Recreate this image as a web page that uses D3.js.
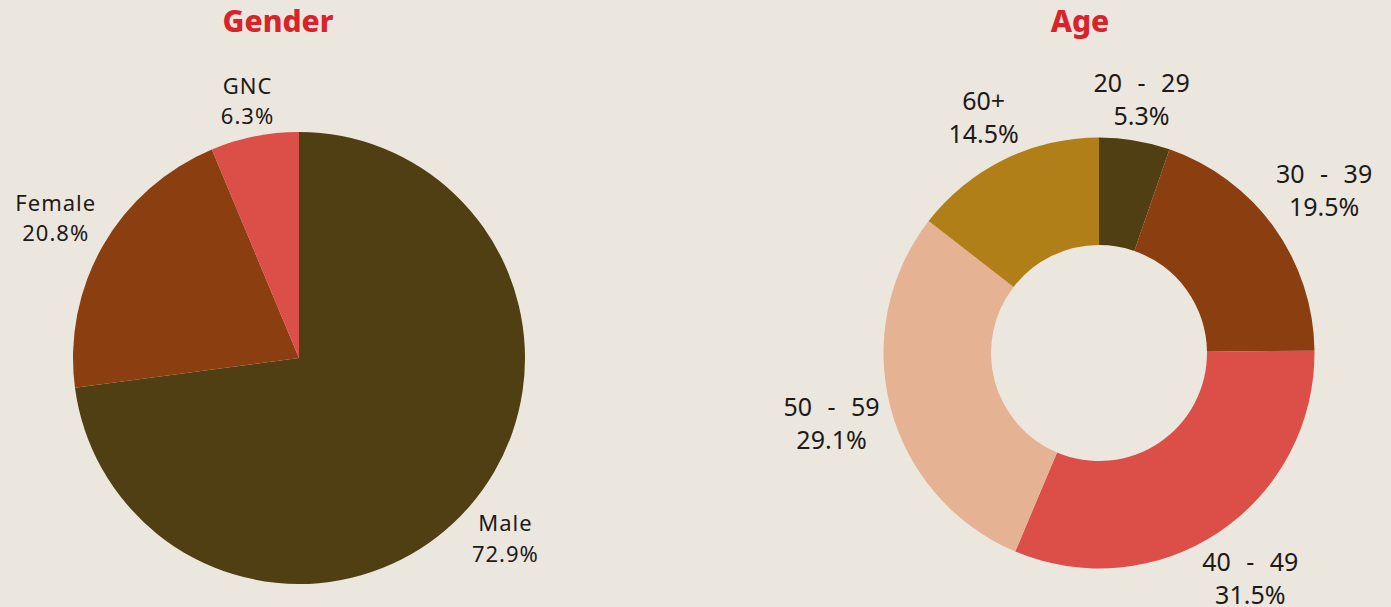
<!DOCTYPE html>
<html>
<head>
<meta charset="utf-8">
<script src="https://cdn.jsdelivr.net/npm/d3@7"></script>
<style>
  html, body { margin: 0; padding: 0; background: #ece7de; }
  svg { display: block; }
</style>
</head>
<body>
<svg id="chart" width="1391" height="607"></svg>
<script>
// Respondent breakdown by gender and age
const genderCategories = ["Male", "Female", "GNC"];
const genderValues = [72.9, 20.8, 6.3];
const genderColors = ["#503f12", "#8b3e10", "#dc4e48"];

const ageCategories = ["20 - 29", "30 - 39", "40 - 49", "50 - 59", "60+"];
const ageValues = [5.3, 19.5, 31.5, 29.1, 14.5];
const ageColors = ["#503f12", "#8b3e10", "#dc4e48", "#e5b393", "#b07f17"];

const svg = d3.select("#chart");
const FONT = "'Noto Sans', 'DejaVu Sans', sans-serif";
const CAP = 0.714; // cap height of the label font, in em

function drawPie(opts) {
  const data = opts.categories.map((c, i) => ({ name: c, value: opts.values[i], color: opts.colors[i] }));
  const pie = d3.pie().value(d => d.value).sort(null);
  const arcs = pie(data);
  const arc = d3.arc().innerRadius(opts.inner).outerRadius(opts.outer);

  const g = svg.append("g").attr("transform", `translate(${opts.cx},${opts.cy})`);

  g.selectAll("path.slice")
    .data(arcs)
    .join("path")
    .attr("class", "slice")
    .attr("d", arc)
    .attr("fill", d => d.data.color);

  // title
  svg.append("text")
    .attr("x", opts.titleX)
    .attr("y", opts.titleY)
    .attr("text-anchor", "middle")
    .attr("font-family", FONT)
    .attr("font-weight", 800)
    .attr("font-size", opts.titleSize)
    .attr("fill", "#d8232a")
    .text(opts.title);

  // outside labels: two lines, pushed out along the slice's mid-angle
  const gap = 8;
  arcs.forEach(a => {
    const mid = (a.startAngle + a.endAngle) / 2;
    const s = Math.sin(mid), c = Math.cos(mid);
    const t = g.append("text")
      .attr("text-anchor", "middle")
      .attr("font-family", FONT)
      .attr("font-size", opts.labelSize)
      .attr("letter-spacing", opts.letterSpacing)
      .attr("word-spacing", opts.wordSpacing)
      .attr("fill", "#1d1a17");
    t.append("tspan").attr("x", 0).attr("y", 0).text(a.data.name);
    t.append("tspan").attr("x", 0).attr("y", opts.lineGap).text(a.data.value.toFixed(1) + "%");
    const bb = t.node().getBBox();
    // ink box: from the first line's cap top to the second line's baseline
    const top = -CAP * opts.labelSize, bottom = opts.lineGap;
    const hw = bb.width / 2, hh = (bottom - top) / 2;
    const dist = opts.outer + gap + Math.abs(hw * s) + Math.abs(hh * c);
    const px = dist * s, py = -dist * c;
    const bcx = bb.x + hw, bcy = (top + bottom) / 2;
    t.attr("transform", `translate(${px - bcx},${py - bcy})`);
  });
}

drawPie({
  title: "Gender", titleX: 278, titleY: 32, titleSize: 30,
  categories: genderCategories, values: genderValues, colors: genderColors,
  cx: 299, cy: 358, inner: 0, outer: 226,
  labelSize: 22, lineGap: 30.5, letterSpacing: 1, wordSpacing: 0
});

drawPie({
  title: "Age", titleX: 1080, titleY: 32, titleSize: 30,
  categories: ageCategories, values: ageValues, colors: ageColors,
  cx: 1099, cy: 353, inner: 108, outer: 215.5,
  labelSize: 25, lineGap: 33, letterSpacing: 0, wordSpacing: 9
});
</script>
</body>
</html>
